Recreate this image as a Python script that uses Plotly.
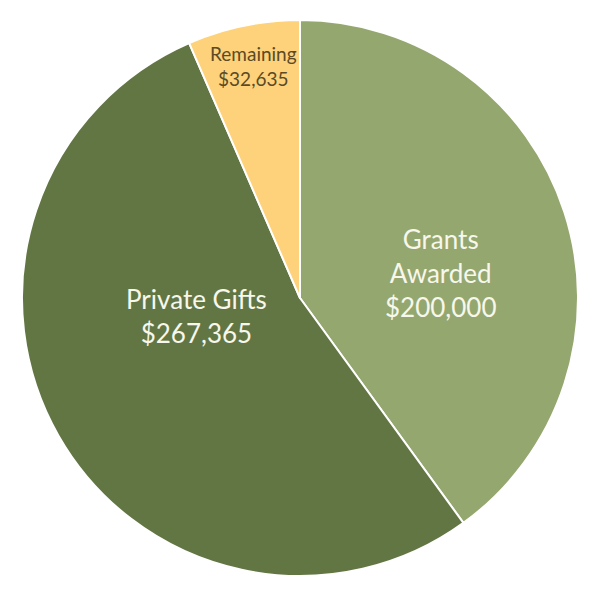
import plotly.graph_objects as go

labels = ["Grants<br>Awarded", "Private Gifts", "Remaining"]
values = [200000, 267365, 32635]
colors = ["#94A76F", "#627644", "#FDD27A"]
text_colors = ["#F7F7EC", "#F7F7EC", "#5B4A26"]
text_sizes = [26, 26, 19]
# where each label block sits (paper coords)
label_x = [0.752, 0.313, 0.417]
label_y = [0.545, 0.468, 0.918]

fig = go.Figure()
fig.add_trace(go.Pie(
    labels=labels,
    values=values,
    sort=False,
    direction="clockwise",
    rotation=0,
    marker=dict(colors=colors, line=dict(color="#FFFFFF", width=2)),
    textinfo="none",
    hoverinfo="label+value",
    showlegend=False,
))

for i in range(len(labels)):
    fig.add_annotation(
        x=label_x[i], y=label_y[i], xref="paper", yref="paper",
        xanchor="center", yanchor="middle",
        text=labels[i] + "<br>$" + f"{values[i]:,}",
        showarrow=False,
        font=dict(family="Lato", color=text_colors[i], size=text_sizes[i]),
        align="center",
    )

# page body has an 8px margin, so shift the plot area back by that much
fig.update_layout(
    width=600, height=600,
    margin=dict(l=14, r=30, t=12, b=32),
    paper_bgcolor="white",
    font=dict(family="Lato"),
)

fig.write_html("out.html")
